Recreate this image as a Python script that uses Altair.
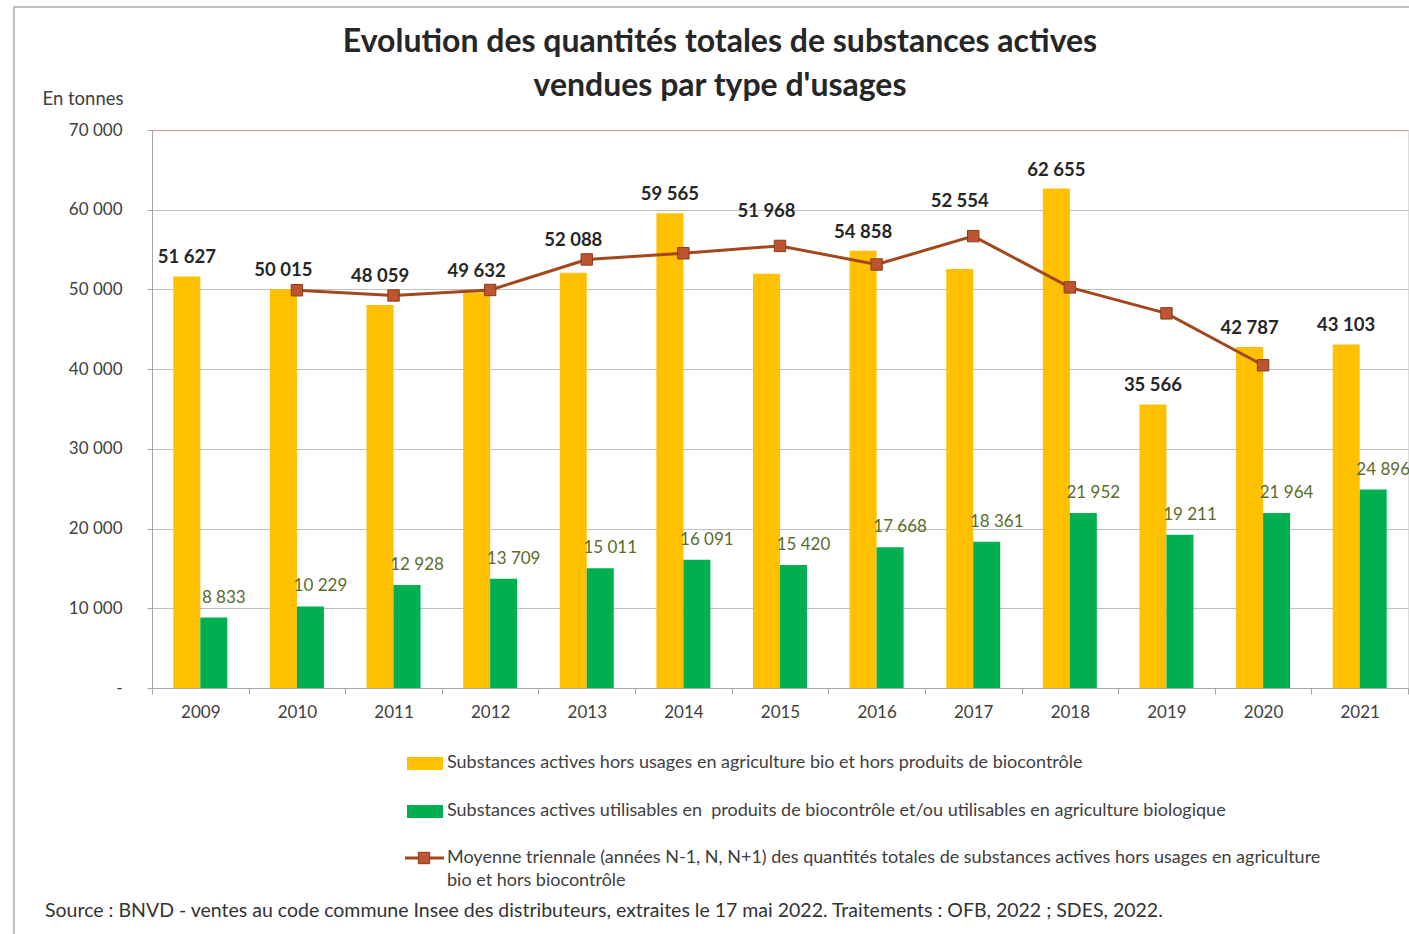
import altair as alt
import pandas as pd

# ---------------- data ----------------
years = [str(y) for y in range(2009, 2022)]
conv_vals = [51627, 50015, 48059, 49632, 52088, 59565, 51968, 54858, 52554, 62655, 35566, 42787, 43103]
bio_vals = [8833, 10229, 12928, 13709, 15011, 16091, 15420, 17668, 18361, 21952, 19211, 21964, 24896]
avg_years = [str(y) for y in range(2010, 2021)]
avg_vals = [49900, 49240, 49930, 53760, 54540, 55460, 53130, 56690, 50260, 47000, 40490]

series_keys = ["conv", "bio"]
series_names = [
    "Substances actives hors usages en agriculture bio et hors produits de biocontrôle",
    "Substances actives utilisables en\u00a0 produits de biocontrôle et/ou utilisables en agriculture biologique",
]
line_name = [
    "Moyenne triennale (années N-1, N, N+1) des quantités totales de substances actives hors usages en agriculture",
    "bio et hors biocontrôle",
]
title_lines = [
    "Evolution des quantités totales de substances actives",
    "vendues par type d'usages",
]
y_title = "En tonnes"
y_ticks = [0, 10000, 20000, 30000, 40000, 50000, 60000, 70000]
source_text = ("Source : BNVD - ventes au code commune Insee des distributeurs, extraites le 17 mai 2022. "
               "Traitements : OFB, 2022 ; SDES, 2022.")

COL_CONV = "#FFC000"
COL_BIO = "#00B050"
COL_LINE = "#A3481C"
COL_MARK = "#BC5530"
FONT = "Lato"


def fmt(v):
    return f"{v:,}".replace(",", " ")


avg_map = dict(zip(avg_years, avg_vals))
rows = []
for y, c, b in zip(years, conv_vals, bio_vals):
    rows.append({"year": y, "key": "conv", "value": c, "label": fmt(c), "avg": avg_map.get(y)})
    rows.append({"year": y, "key": "bio", "value": b, "label": fmt(b), "avg": None})
long_df = pd.DataFrame(rows)
avg_df = pd.DataFrame({"year": avg_years, "avg": avg_vals})

# ---------------- encodings ----------------
x_enc = alt.X(
    "year:N",
    sort=years,
    scale=alt.Scale(type="band", paddingInner=0, paddingOuter=0),
    axis=alt.Axis(
        title=None, labelAngle=0, labelFont=FONT, labelFontSize=17, labelColor="#404040",
        tickBand="extent", tickSize=6, tickColor="#A6A6A6", domainColor="#A6A6A6",
        labelPadding=10, grid=False,
    ),
)
xoff_enc = alt.XOffset(
    "key:N", sort=series_keys,
    scale=alt.Scale(domain=series_keys, paddingInner=0, paddingOuter=0.79),
)
y_axis = alt.Axis(
    values=y_ticks,
    labelExpr="datum.value == 0 ? '-' : replace(format(datum.value, ','), ',', ' ')",
    labelFont=FONT, labelFontSize=17, labelColor="#404040", labelPadding=25,
    tickSize=5, tickColor="#A6A6A6", domainColor="#A6A6A6",
    gridColor={"condition": {"test": "datum.value === 70000", "value": "#D99694"}, "value": "#BFBFBF"},
    title=y_title, titleAngle=0, titleAlign="left", titleBaseline="middle",
    titleX=-110, titleY=-32, titleFont=FONT, titleFontSize=18.5, titleFontWeight="normal",
    titleColor="#404040",
)
y_scale = alt.Scale(domain=[0, 70000], nice=False)

base = alt.Chart(long_df)

bars = base.mark_bar().encode(
    x=x_enc,
    xOffset=xoff_enc,
    y=alt.Y("value:Q", scale=y_scale, axis=y_axis),
    color=alt.Color("key:N", scale=alt.Scale(domain=series_keys, range=[COL_CONV, COL_BIO]), legend=None),
)

conv_labels = base.transform_filter("datum.key == 'conv'").transform_calculate(
    pos=("(!isValid(datum.avg) || datum.avg > datum.value + 8000) ? datum.value : "
         "(datum.avg > datum.value + 2000 ? datum.avg + 2000 : max(datum.value, datum.avg))")
).mark_text(dy=-19, font=FONT, fontSize=18.5, fontWeight="bold", color="#262626").encode(
    x=x_enc, xOffset=xoff_enc, y=alt.Y("pos:Q", scale=y_scale), text="label:N"
)

bio_labels = base.transform_filter("datum.key == 'bio'").mark_text(
    dy=-20, dx=10, font=FONT, fontSize=17, color="#5A6B2A"
).encode(x=x_enc, xOffset=xoff_enc, y=alt.Y("value:Q", scale=y_scale), text="label:N")

line = alt.Chart(avg_df).mark_line(color=COL_LINE, strokeWidth=3).encode(
    x=x_enc, y=alt.Y("avg:Q", scale=y_scale)
)
markers = alt.Chart(avg_df).mark_square(
    size=130, fill=COL_MARK, stroke="#8A3A14", strokeWidth=1, opacity=1
).encode(x=x_enc, y=alt.Y("avg:Q", scale=y_scale))

# ---------------- title, legend, notes (manual) ----------------
one = pd.DataFrame({"t": [""]})
title1_df = pd.DataFrame({"t": [title_lines[0]]})
title2_df = pd.DataFrame({"t": [title_lines[1]]})
leg1_df = pd.DataFrame({"t": [series_names[0]]})
leg2_df = pd.DataFrame({"t": [series_names[1]]})
leg3a_df = pd.DataFrame({"t": [line_name[0]]})
leg3b_df = pd.DataFrame({"t": [line_name[1]]})
src_df = pd.DataFrame({"t": [source_text]})

title_style = dict(align="center", baseline="middle", font=FONT, fontSize=32, fontWeight="bold", color="#262626")
t1 = alt.Chart(title1_df).mark_text(**title_style).encode(x=alt.value(568), y=alt.value(-88), text="t:N")
t2 = alt.Chart(title2_df).mark_text(**title_style).encode(x=alt.value(568), y=alt.value(-44), text="t:N")

leg_text_style = dict(align="left", baseline="middle", font=FONT, fontSize=18, color="#404040")

sw1 = alt.Chart(one).mark_rect(color=COL_CONV).encode(
    x=alt.value(255), x2=alt.value(291), y=alt.value(627), y2=alt.value(640))
tx1 = alt.Chart(leg1_df).mark_text(**leg_text_style).encode(
    x=alt.value(295), y=alt.value(633), text="t:N")
sw2 = alt.Chart(one).mark_rect(color=COL_BIO).encode(
    x=alt.value(255), x2=alt.value(291), y=alt.value(675), y2=alt.value(688))
tx2 = alt.Chart(leg2_df).mark_text(**leg_text_style).encode(
    x=alt.value(295), y=alt.value(681), text="t:N")
sw3 = alt.Chart(one).mark_rule(color=COL_LINE, strokeWidth=3).encode(
    x=alt.value(253), x2=alt.value(292), y=alt.value(728))
sq3 = alt.Chart(one).mark_square(size=130, fill=COL_MARK, stroke="#8A3A14", strokeWidth=1, opacity=1).encode(
    x=alt.value(272), y=alt.value(728))
tx3a = alt.Chart(leg3a_df).mark_text(**leg_text_style).encode(
    x=alt.value(295), y=alt.value(728), text="t:N")
tx3b = alt.Chart(leg3b_df).mark_text(**leg_text_style).encode(
    x=alt.value(295), y=alt.value(751), text="t:N")
src = alt.Chart(src_df).mark_text(
    align="left", baseline="middle", font=FONT, fontSize=19.5, color="#333333"
).encode(x=alt.value(-107), y=alt.value(781), text="t:N")
frame = alt.Chart(one).mark_rect(fillOpacity=0, stroke="#BFBFBF", strokeWidth=2).encode(
    x=alt.value(-138), y=alt.value(-123), x2=alt.value(1400), y2=alt.value(900))

chart = alt.layer(
    frame, bars, line, markers, conv_labels, bio_labels,
    t1, t2, sw1, tx1, sw2, tx2, sw3, sq3, tx3a, tx3b, src,
).properties(
    width=1256,
    height=558,
    padding={"left": 152, "top": 130, "right": 1, "bottom": 246},
    autosize=alt.AutoSizeParams(type="none"),
).configure_view(
    stroke="#D99694", strokeWidth=1.5
).configure(background="white")

chart.save("out.html", embed_options={"renderer": "svg", "actions": False})
